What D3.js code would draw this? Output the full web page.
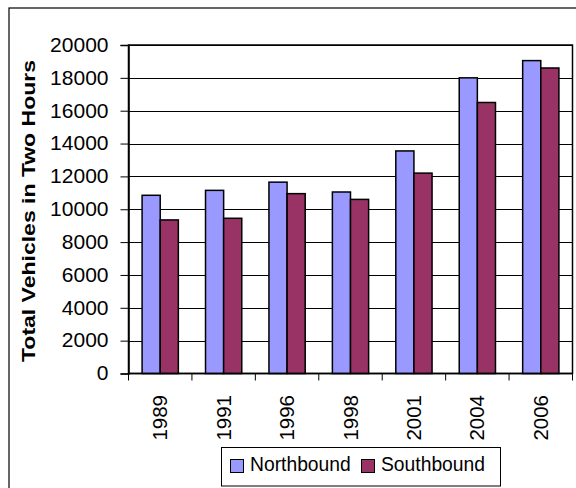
<!DOCTYPE html>
<html>
<head>
<meta charset="utf-8">
<script src="https://cdn.jsdelivr.net/npm/d3@7"></script>
<style>
  html, body { margin: 0; padding: 0; background: #fff; }
  svg { display: block; }
  text { font-family: "Liberation Sans", Arial, sans-serif; fill: #000; }
</style>
</head>
<body>
<svg id="chart" width="576" height="488"></svg>
<script>
// Traffic counts, two-hour totals by survey year
const years = ["1989", "1991", "1996", "1998", "2001", "2004", "2006"];
const northbound = [10850, 11150, 11650, 11050, 13550, 18000, 19050];
const southbound = [9350, 9450, 10950, 10600, 12200, 16500, 18600];
const seriesNames = ["Northbound", "Southbound"];
const seriesColors = ["#9999ff", "#993366"];
const yTicks = [0, 2000, 4000, 6000, 8000, 10000, 12000, 14000, 16000, 18000, 20000];

const svg = d3.select("#chart");
const plot = { left: 128.5, right: 572.5, top: 45, bottom: 373.5 };

// Outer chart frame
svg.append("rect")
  .attr("x", 9).attr("y", 8).attr("width", 580).attr("height", 490)
  .attr("fill", "none").attr("stroke", "#000").attr("stroke-width", 1.2);

const x = d3.scaleBand().domain(years).range([plot.left, plot.right]).paddingInner(0).paddingOuter(0);
const y = d3.scaleLinear().domain([0, 20000]).range([plot.bottom, plot.top]);
// Two bars per category with a 150% gap between clusters
const barW = x.bandwidth() / 3.5;
const sub = d3.scaleBand().domain(seriesNames).range([0.75 * barW, 2.75 * barW]).padding(0);

// Horizontal gridlines
svg.append("g").selectAll("line").data(yTicks.filter(d => d > 0)).join("line")
  .attr("x1", plot.left).attr("x2", plot.right)
  .attr("y1", d => Math.round(y(d)) + 0.5).attr("y2", d => Math.round(y(d)) + 0.5)
  .attr("stroke", "#000").attr("stroke-width", 1);

// Plot area border
svg.append("rect")
  .attr("x", plot.left).attr("y", plot.top)
  .attr("width", plot.right - plot.left).attr("height", plot.bottom - plot.top)
  .attr("fill", "none").attr("stroke", "#000").attr("stroke-width", 1.5);

// Bars
const rows = years.map((yr, i) => ({ year: yr, values: [northbound[i], southbound[i]] }));
svg.append("g").selectAll("g").data(rows).join("g")
  .attr("transform", d => `translate(${x(d.year)},0)`)
  .selectAll("rect").data(d => d.values.map((v, k) => ({ name: seriesNames[k], value: v, k })))
  .join("rect")
  .attr("x", d => sub(d.name))
  .attr("y", d => y(d.value))
  .attr("width", sub.bandwidth())
  .attr("height", d => y(0) - y(d.value))
  .attr("fill", d => seriesColors[d.k])
  .attr("stroke", "#000").attr("stroke-width", 1.5);

// Y axis
const yAxis = d3.axisLeft(y).tickValues(yTicks).tickSize(8).tickPadding(12).tickFormat(d3.format("d"));
const gy = svg.append("g").attr("transform", `translate(${plot.left},0)`).call(yAxis);
gy.select(".domain").attr("stroke", "#000").attr("stroke-width", 1.5);
gy.selectAll(".tick line").attr("stroke", "#000");
gy.selectAll(".tick text")
  .attr("font-size", 21).attr("dy", "0.3em")
  .attr("font-family", "Liberation Sans, Arial, sans-serif").attr("fill", "#000");

// X axis: tick marks at cluster boundaries, labels rotated
const gx = svg.append("g").attr("transform", `translate(0,${plot.bottom})`);
gx.append("line").attr("x1", plot.left).attr("x2", plot.right)
  .attr("stroke", "#000").attr("stroke-width", 1.5);
const bounds = years.map(d => x(d)).concat([plot.right]);
gx.selectAll("line.tk").data(bounds).join("line").attr("class", "tk")
  .attr("x1", d => d).attr("x2", d => d).attr("y1", 0).attr("y2", 7)
  .attr("stroke", "#000");
gx.selectAll("text").data(years).join("text")
  .attr("transform", d => `translate(${x(d) + x.bandwidth() / 2 + 7},21.5) rotate(-90)`)
  .attr("text-anchor", "end")
  .attr("font-size", 20.5)
  .text(d => d);

// Y axis title
svg.append("text")
  .attr("transform", `translate(35,211) rotate(-90)`)
  .attr("text-anchor", "middle")
  .attr("font-size", 18.8).attr("font-weight", "bold")
  .attr("textLength", 302).attr("lengthAdjust", "spacingAndGlyphs")
  .text("Total Vehicles in Two Hours");

// Legend
const lg = svg.append("g");
lg.append("rect").attr("x", 221.5).attr("y", 447.5).attr("width", 279).attr("height", 38.5)
  .attr("fill", "#fff").attr("stroke", "#000").attr("stroke-width", 1);
const legendX = [230.5, 361.5];
seriesNames.forEach((name, i) => {
  lg.append("rect").attr("x", legendX[i]).attr("y", 459.5).attr("width", 13).attr("height", 13)
    .attr("fill", seriesColors[i]).attr("stroke", "#000").attr("stroke-width", 1);
  lg.append("text").attr("x", legendX[i] + 19.5).attr("y", 471)
    .attr("font-size", 19.3).text(name);
});
</script>
</body>
</html>
